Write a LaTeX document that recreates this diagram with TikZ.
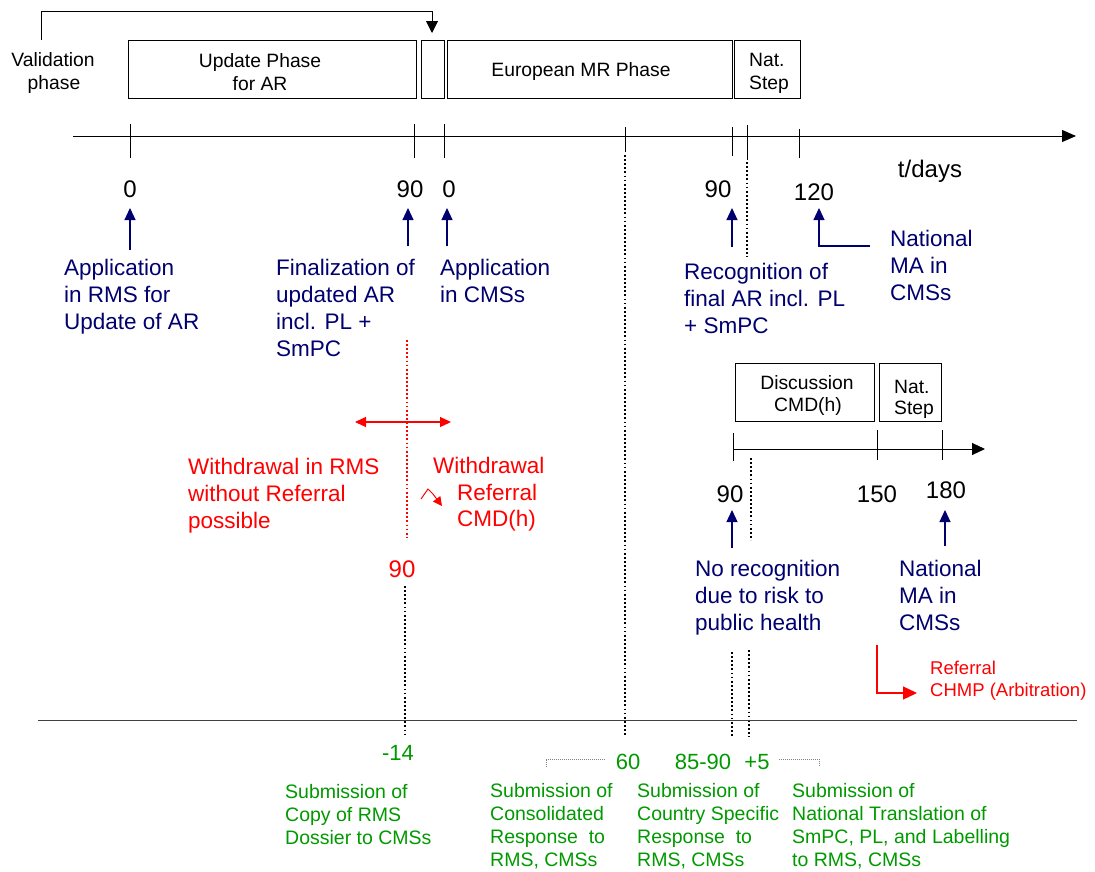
\documentclass[tikz,border=0pt]{standalone}
\usepackage{fontspec}
\setmainfont{Liberation Sans}
\usetikzlibrary{arrows.meta}
\definecolor{navy}{RGB}{0,0,110}
\definecolor{grn}{RGB}{0,153,0}
\definecolor{redc}{RGB}{255,0,0}
\begin{document}
\begin{tikzpicture}[x=1pt,y=-1pt,
  box/.style={draw, line width=0.8pt, inner sep=0, anchor=north west},
  tl/.style={line width=1pt},
  tick/.style={line width=1pt},
  dots/.style={line width=1.8pt, dash pattern=on 1.8pt off 2.3pt},
  rdots/.style={redc, line width=1.8pt, dash pattern=on 1.8pt off 2.3pt},
  boxtxt/.style={font=\fontsize{19.3}{22.5}\selectfont, inner sep=0, anchor=base},
  num/.style={font=\fontsize{24}{28}\selectfont, inner sep=0, anchor=base},
  navytxt/.style={text=navy, font=\fontsize{22.5}{27}\selectfont, align=left, anchor=base west, inner sep=0},
  redtxt/.style={text=redc, font=\fontsize{22.5}{27}\selectfont, align=left, anchor=base west, inner sep=0},
  grntxt/.style={text=grn, font=\fontsize{19.5}{23}\selectfont, align=left, anchor=base west, inner sep=0},
  grnnum/.style={text=grn, font=\fontsize{22}{26}\selectfont, inner sep=0, anchor=base},
  navyarr/.style={navy, line width=1.2pt, -{Triangle[width=11pt,length=12pt]}},
]
\useasboundingbox (0,0) rectangle (1095,871);

% ---------- top boxes ----------
\node[box, minimum width=288pt, minimum height=58pt] (upd) at (128,40) {};
\node[box, minimum width=23pt, minimum height=58pt] (gap) at (421,40) {};
\node[box, minimum width=285pt, minimum height=58pt] (eur) at (447,40) {};
\node[box, minimum width=66pt, minimum height=58pt] (nat) at (734,40) {};
\node[boxtxt] (updt1) at (260,67) {Update Phase};
\node[boxtxt] (updt2) at (260,90) {for AR};
\node[boxtxt] (eurt) at (581,76) {European MR Phase};
\node[boxtxt, anchor=base west] (natt1) at (749,66) {Nat.};
\node[boxtxt, anchor=base west] (natt2) at (749,89) {Step};
\node[boxtxt] (val1) at (53,66) {Validation};
\node[boxtxt] (val2) at (54,89) {phase};

% validation bracket
\coordinate (vb) at (41,40);
\coordinate (ve) at (432,33);
\draw[line width=1pt, -{Triangle[width=12pt,length=12pt]}] (vb) -- (41,11) -- (432,11) -- (ve);

% ---------- main timeline ----------
\coordinate (t0) at (73,136);
\coordinate (t1) at (1076,136);
\draw[tl, -{Triangle[width=12pt,length=14pt]}] (t0) -- (t1);
\draw[tick] (130,124) -- (130,158);
\draw[tick] (414,124) -- (414,158);
\draw[tick] (444,124) -- (444,158);
\draw[tick] (625,127) -- (625,152);
\draw[tick] (732,127) -- (732,156);
\draw[tick] (747,125) -- (747,160);
\draw[tick] (799,129) -- (799,158);
\draw[dots] (747,162) -- (747,257);
\draw[dots] (625,155) -- (625,737);

\node[num] (n0) at (130,197) {0};
\node[num] (n90) at (410,197) {90};
\node[num] (n0b) at (449,197) {0};
\node[num] (n90b) at (718,197) {90};
\node[num] (n120) at (814,200) {120};
\node[num] (tdays) at (930,177) {t/days};

% navy arrows
\draw[navyarr] (130,250) -- (130,208);
\draw[navyarr] (408,246) -- (408,208);
\draw[navyarr] (447,246) -- (447,208);
\draw[navyarr] (732,247) -- (732,208);
\draw[navyarr] (870,246) -- (819,246) -- (819,208);

\node[navytxt] (a1) at (64,329) {Application\\in RMS for\\Update of AR};
\node[navytxt] (a2) at (276,356) {Finalization of\\updated AR\\incl. PL +\\SmPC};
\node[navytxt] (a3) at (440,302) {Application\\in CMSs};
\node[navytxt] (a4) at (684,333) {Recognition of\\final AR incl. PL\\+ SmPC};
\node[navytxt] (a5) at (890,300) {National\\MA in\\CMSs};

% ---------- red withdrawal area ----------
\draw[rdots] (407,340) -- (407,537);
\draw[redc, line width=1.2pt, {Triangle[width=10pt,length=11pt]}-{Triangle[width=10pt,length=11pt]}] (355,422) -- (451,422);
\node[redtxt] (w1) at (188,528) {Withdrawal in RMS\\without Referral\\possible};
\node[redtxt] (w2) at (433,473) {Withdrawal};
\node[redtxt] (w3) at (457,500) {Referral};
\node[redtxt] (w4) at (457,526) {CMD(h)};
\draw[redc, line width=1pt, -{Triangle[width=9pt,length=9pt]}] (421,499) -- (428,489) -- (433,494) -- (442,506);
\node[num, text=redc] (r90) at (402,577) {90};
\draw[dots] (405,586) -- (405,735);

% ---------- second timeline ----------
\node[box, minimum width=139pt, minimum height=58pt] (disc) at (735,363) {};
\node[box, minimum width=62pt, minimum height=58pt] (nat2) at (879,363) {};
\node[boxtxt] (disct1) at (807,389) {Discussion};
\node[boxtxt] (disct2) at (808,411) {CMD(h)};
\node[boxtxt, anchor=base west] (nat2t1) at (894,393) {Nat.};
\node[boxtxt, anchor=base west] (nat2t2) at (894,414) {Step};

\coordinate (s0) at (733,449);
\coordinate (s1) at (985,449);
\draw[tl, -{Triangle[width=12pt,length=13pt]}] (s0) -- (s1);
\draw[tick] (733,433) -- (733,461);
\draw[tick] (877,430) -- (877,460);
\draw[tick] (942,430) -- (942,460);
\draw[dots] (751,458) -- (751,540);

\node[num] (m90) at (730,502) {90};
\node[num] (m150) at (877,502) {150};
\node[num] (m180) at (946,498) {180};
\draw[navyarr] (732,548) -- (732,510);
\draw[navyarr] (945,546) -- (945,510);
\node[navytxt] (b1) at (695,630) {No recognition\\due to risk to\\public health};
\node[navytxt] (b2) at (899,630) {National\\MA in\\CMSs};

\draw[redc, line width=1.2pt, -{Triangle[width=13pt,length=14pt]}] (877,645) -- (877,693) -- (917,693);
\node[text=redc, font=\fontsize{18.5}{21.5}\selectfont, align=left, anchor=base west, inner sep=0] (ref) at (930,696) {Referral\\CHMP (Arbitration)};

\draw[dots] (732,652) -- (732,737);
\draw[dots] (749,650) -- (749,737);

% ---------- bottom line ----------
\coordinate (bl0) at (38,720);
\coordinate (bl1) at (1077,720);
\draw[line width=1pt, black!75] (bl0) -- (bl1);

\node[grnnum] (g14) at (398,760) {-14};
\node[grnnum] (g60) at (628,769) {60};
\node[grnnum] (g85) at (703,769) {85-90};
\node[grnnum] (g5) at (757,769) {+5};
\draw[gray, line width=1pt, dash pattern=on 1pt off 1pt] (546,767) -- (546,759) -- (605,759);
\draw[gray, line width=1pt, dash pattern=on 1pt off 1pt] (779,759) -- (819,759) -- (819,767);

\node[grntxt] (c1) at (285,844) {Submission of\\Copy of RMS\\Dossier to CMSs};
\node[grntxt] (c2) at (490,866) {Submission of\\Consolidated\\Response\ \ to\\RMS, CMSs};
\node[grntxt] (c3) at (637,866) {Submission of\\Country Specific\\Response\ \ to\\RMS, CMSs};
\node[grntxt] (c4) at (792,866) {Submission of\\National Translation of\\SmPC, PL, and Labelling\\to RMS, CMSs};
\end{tikzpicture}
\end{document}
